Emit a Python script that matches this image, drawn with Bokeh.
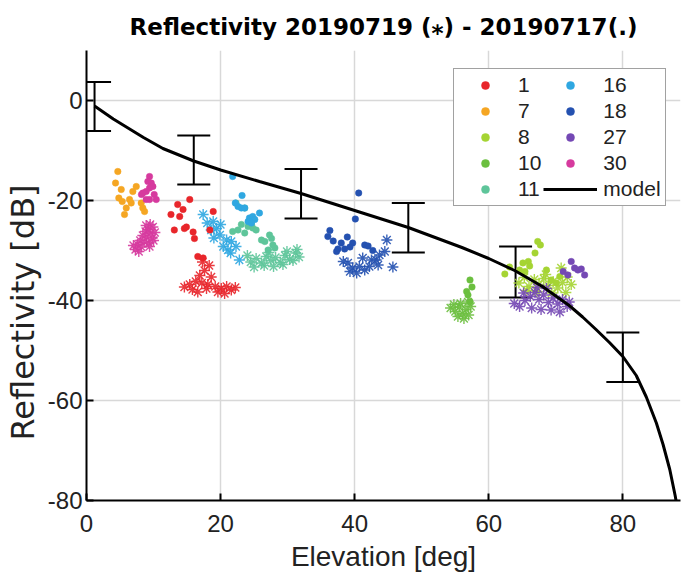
from bokeh.plotting import figure
from bokeh.models import (ColumnDataSource, Whisker, TeeHead, Legend, LegendItem,
                          Title, FixedTicker, Range1d)
from bokeh.embed import file_html
from bokeh.resources import INLINE

# ---------------- data ----------------
series = ["1", "7", "8", "10", "11", "16", "18", "27", "30"]
colors = {"1": "#E8262B", "7": "#F5A623", "8": "#A5D433", "10": "#6BBF3F",
          "11": "#5EC59A", "16": "#2FA7E1", "18": "#2451B0", "27": "#7448B4",
          "30": "#D63A9E"}

# 20190717 (dots)
dot_x = {
    "1": [13.6, 14.4, 15.4, 12.6, 13.9, 13.1, 14.6, 14.9, 15.9, 16.1, 18.9, 16.6, 17.4, 18.4],
    "7": [4.67, 4.33, 5.18, 6.91, 7.42, 4.82, 5.33, 6.42, 6.67, 5.93, 5.67, 8.16, 8.4, 8.66],
    "8": [67.3, 67.7, 66.9, 65.1, 65.9, 66.1, 63.1, 62.4, 64.6, 65.4, 68.6, 70.6, 70.1, 69.3],
    "10": [57.2, 56.7, 56.9, 57.2, 57.5],
    "11": [21.8, 22.6, 23.1, 23.6, 24.1, 24.6, 24.8, 25.3, 26.1, 26.6, 27.3, 27.6, 27.8, 28.1, 27.1, 22.3, 23.6],
    "16": [21.8, 23.2, 22.2, 22.6, 23.1, 23.6, 25.8, 24.3, 24.8, 25.1, 24.1, 24.6],
    "18": [40.6, 40.1, 36.3, 36.0, 36.8, 38.0, 38.9, 39.7, 39.3, 38.5, 37.5, 37.3, 41.5, 42.0, 42.7],
    "27": [72.3, 72.8, 73.3, 73.8, 74.3, 71.1, 71.8],
    "30": [9.4, 9.15, 9.66, 9.9, 9.4, 8.9, 8.4, 10.1, 10.4, 9.4, 8.9, 8.2],
}
dot_y = {
    "1": [-20.8, -21.8, -19.8, -22.8, -23.2, -25.9, -25.6, -25.3, -26.3, -27.6, -22.2, -31.2, -31.5, -25.9],
    "7": [-14.2, -16.5, -17.8, -18.2, -17.2, -19.5, -20.2, -19.8, -20.5, -21.5, -22.8, -20.5, -21.5, -22.2],
    "8": [-28.2, -28.9, -30.5, -32.5, -32.2, -33.1, -33.3, -34.7, -33.9, -34.2, -33.9, -35.2, -36.5, -35.9],
    "10": [-35.9, -38.2, -38.9, -40.2, -37.3],
    "11": [-26.2, -25.9, -24.8, -26.5, -25.2, -24.8, -25.5, -25.9, -27.9, -28.2, -26.9, -27.6, -28.9, -29.5, -29.9, -20.5, -21.5],
    "16": [-15.2, -19.0, -20.5, -21.2, -21.5, -21.5, -22.5, -23.5, -23.2, -23.8, -24.2, -24.5],
    "18": [-18.5, -23.7, -26.0, -27.2, -28.1, -28.5, -27.3, -28.5, -29.3, -29.7, -29.7, -30.2, -28.9, -29.1, -30.0],
    "27": [-32.2, -33.5, -33.9, -33.7, -34.9, -34.2, -34.9],
    "30": [-15.2, -16.2, -16.5, -17.2, -17.5, -18.2, -18.5, -18.8, -19.8, -19.8, -19.8, -18.8],
}

# 20190719 (asterisks)
star_x = {
    "1": [17.3, 18.3, 17.6, 16.9, 18.6, 16.3, 15.4, 14.6, 15.8, 17.2, 18.1, 19.2, 20.1, 20.9, 21.6, 19.6, 22.2, 16.6, 17.9, 20.6],
    "8": [64.5, 65.3, 66.0, 66.8, 67.5, 68.2, 68.9, 69.6, 70.3, 71.0, 71.7, 72.3, 67.2, 69.4, 65.7, 70.8, 71.5, 68.5],
    "10": [54.3, 55.0, 55.6, 56.1, 55.4, 56.6, 57.0, 56.3, 55.8, 57.3, 54.8, 56.9],
    "11": [24.5, 25.3, 26.1, 26.8, 27.5, 28.2, 28.9, 29.6, 30.3, 31.2, 31.7, 25.0, 26.5, 27.9, 29.3, 30.8, 24.0, 27.2, 29.9, 31.4],
    "16": [17.4, 18.9, 18.6, 19.4, 19.9, 20.9, 20.4, 21.6, 22.3, 21.1, 22.8, 18.0, 19.0, 21.5, 20.0],
    "18": [44.8, 44.5, 45.7, 38.3, 39.0, 40.3, 41.2, 42.2, 43.2, 43.7, 39.7, 42.5, 40.7, 39.3, 43.5, 41.5],
    "27": [63.8, 64.6, 65.4, 66.2, 66.9, 67.5, 68.2, 68.9, 69.6, 70.3, 71.0, 71.7, 66.4, 67.8, 69.3, 70.6, 65.2, 68.6, 67.2, 72.0],
    "30": [9.5, 9.9, 9.2, 8.8, 9.6, 10.2, 8.4, 9.0, 9.8, 8.0, 8.6, 9.3, 7.6, 8.2, 7.3, 7.8, 10.0, 8.9, 9.4, 7.0],
}
star_y = {
    "1": [-32.3, -33.0, -34.0, -35.0, -35.3, -36.2, -36.8, -37.3, -37.8, -36.5, -36.8, -37.2, -37.6, -37.2, -37.9, -38.3, -37.4, -38.3, -37.6, -38.6],
    "8": [-36.5, -35.4, -37.2, -35.8, -36.8, -35.6, -37.0, -36.2, -37.5, -36.4, -35.3, -36.8, -38.2, -38.5, -38.0, -33.5, -38.4, -34.8],
    "10": [-41.5, -42.2, -41.3, -42.6, -43.2, -41.8, -42.9, -43.6, -40.6, -41.2, -40.8, -40.3],
    "11": [-32.3, -31.6, -32.5, -31.2, -32.0, -31.4, -32.4, -31.0, -31.8, -30.5, -31.3, -33.3, -33.0, -33.2, -32.8, -32.0, -31.0, -30.4, -30.2, -29.8],
    "16": [-22.8, -24.2, -25.9, -25.6, -26.9, -27.9, -29.2, -28.2, -29.2, -29.9, -31.9, -24.5, -27.5, -30.5, -24.8],
    "18": [-27.9, -30.2, -33.3, -32.2, -32.5, -34.5, -31.5, -33.2, -31.9, -30.9, -33.5, -31.9, -33.2, -34.2, -32.9, -33.9],
    "27": [-40.6, -41.2, -40.0, -39.2, -38.4, -39.8, -38.9, -40.4, -39.5, -40.7, -39.8, -41.2, -41.5, -41.8, -41.9, -42.3, -38.5, -37.6, -37.4, -40.3],
    "30": [-24.8, -25.3, -25.8, -26.2, -26.5, -26.4, -27.0, -27.3, -27.5, -28.0, -28.3, -28.5, -28.8, -29.3, -29.8, -30.2, -28.0, -25.0, -29.2, -29.0],
}

model_x = [1.2, 4, 8.5, 11.4, 16, 20, 25.8, 32, 40, 48, 56, 60, 64, 68, 72, 74, 76, 78, 80, 82, 83.5, 85, 86, 87, 87.8, 88.2]
model_y = [-1.1, -3.7, -7.4, -9.6, -12.1, -13.9, -16.2, -18.6, -22.0, -25.4, -29.4, -31.6, -34.1, -37.2, -41.0, -43.3, -45.8, -48.4, -51.2, -55.0, -59.3, -64.5, -68.8, -73.8, -79.0, -82.0]

err_x = [1.2, 16, 32, 48, 64, 80]
err_hi = [3.7, -7.0, -13.7, -20.5, -29.2, -46.4]
err_lo = [-6.1, -16.8, -23.6, -30.4, -39.4, -56.3]

x_ticks = [0, 20, 40, 60, 80]
y_ticks = [-80, -60, -40, -20, 0]

FONT = "Liberation Sans"
WIDE = "DejaVu Sans"

# ---------------- figure ----------------
p = figure(width=681, height=580, output_backend="svg", toolbar_location=None,
           x_range=Range1d(0, 88.6), y_range=Range1d(-80, 10),
           min_border_left=86, min_border_right=1, min_border_top=50,
           min_border_bottom=80,
           title="Reflectivity 20190719 (\u204e) - 20190717(.)")
p.title.text_font = WIDE
p.title.text_font_size = "23px"
p.title.text_font_style = "bold"
p.title.align = "center"
p.title.vertical_align = "middle"
p.title.text_color = "black"
p.title.standoff = 20
p.outline_line_color = None
p.background_fill_color = "white"
p.border_fill_color = "white"

for ax in (p.xaxis[0], p.yaxis[0]):
    ax.axis_line_width = 2
    ax.axis_line_color = "black"
    ax.major_tick_in = 7
    ax.major_tick_out = 0
    ax.major_tick_line_width = 2
    ax.major_tick_line_color = "black"
    ax.minor_tick_line_color = None
    ax.major_label_text_font = FONT
    ax.major_label_text_font_size = "24px"
    ax.major_label_text_color = "#222222"

p.xaxis.ticker = FixedTicker(ticks=x_ticks)
p.yaxis.ticker = FixedTicker(ticks=y_ticks)
p.xaxis.major_label_overrides = {t: str(t) for t in x_ticks}
p.yaxis.major_label_overrides = {t: str(t) for t in y_ticks}
p.xaxis.major_label_standoff = 14
p.yaxis.major_label_standoff = 4
p.xaxis.axis_label = "Elevation [deg]"
p.xaxis.axis_label_text_font = FONT
p.xaxis.axis_label_text_font_size = "28px"
p.xaxis.axis_label_text_font_style = "normal"
p.xaxis.axis_label_text_color = "#222222"
p.xaxis.axis_label_standoff = 6

p.grid.grid_line_color = "#d8d8d8"
p.grid.grid_line_width = 1.5

# y-axis label (as a side title so it can be shifted along the axis)
ytitle = Title(text="Reflectivity [dB]", align="left", offset=60,
               vertical_align="top",
               text_font=WIDE, text_font_size="32px", text_font_style="normal",
               text_color="#222222", standoff=2)
p.add_layout(ytitle, "left")

# error bars
esrc = ColumnDataSource(dict(x=err_x, hi=err_hi, lo=err_lo))
wh = Whisker(base="x", upper="hi", lower="lo", source=esrc, line_width=2, line_color="black",
             upper_head=TeeHead(size=33, line_width=2, line_color="black"),
             lower_head=TeeHead(size=33, line_width=2, line_color="black"))
p.add_layout(wh)

items_dot = {}
for s in series:
    c = colors[s]
    if s in star_x:
        p.scatter(star_x[s], star_y[s], marker="asterisk", size=11, line_color=c,
                  line_width=1.4, line_alpha=0.9)
for s in series:
    c = colors[s]
    r = p.scatter(dot_x[s], dot_y[s], marker="circle", size=6.5, fill_color=c,
                  line_color=c, line_width=0.5)
    items_dot[s] = r

model_r = p.line(model_x, model_y, line_color="black", line_width=3)

col1 = ["1", "7", "8", "10", "11"]
col2 = ["16", "18", "27", "30"]
items = [LegendItem(label=s, renderers=[items_dot[s]]) for s in col1 + col2]
items.append(LegendItem(label="model", renderers=[model_r]))
legend = Legend(items=items, location=(367, 294), ncols=2,
                label_text_font=FONT, label_text_font_size="21px",
                label_text_color="#222222",
                glyph_width=54, glyph_height=20, label_standoff=6, spacing=2,
                padding=4, margin=0, border_line_color="#444444",
                border_line_width=1, background_fill_color="white",
                background_fill_alpha=1)
p.add_layout(legend)

open("out.html", "w").write(file_html(p, INLINE))
